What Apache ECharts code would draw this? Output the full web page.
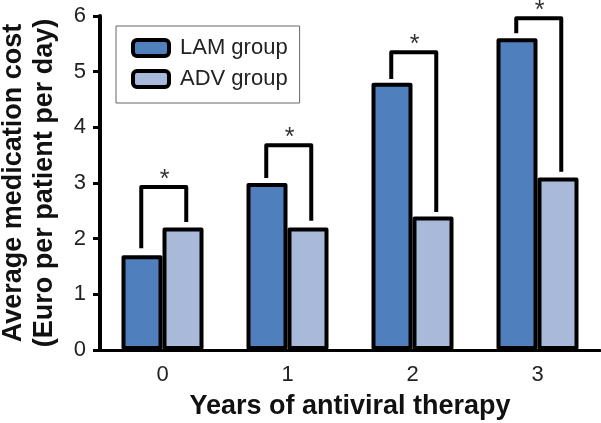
<!DOCTYPE html>
<html>
<head>
<meta charset="utf-8">
<script src="https://cdn.jsdelivr.net/npm/echarts@6/dist/echarts.min.js"></script>
<style>html,body{margin:0;padding:0;background:#fff}#chart{width:601px;height:423px}</style>
</head>
<body>
<div id="chart"></div>
<script>
const categories = ['0', '1', '2', '3'];
const lamValues = [1.7, 3.0, 4.8, 5.6];
const advValues = [2.2, 2.2, 2.4, 3.1];
const bracketTop = [2.93, 3.68, 5.35, 5.96];
const bracketLeftEnd = [1.83, 3.09, 4.87, 5.69];
const bracketRightEnd = [2.3, 2.32, 2.48, 3.2];
const bracketMark = ['*', '*', '*', '*'];

const FONT = '"Liberation Sans", Arial, sans-serif';
const chart = echarts.init(document.getElementById('chart'), null, {renderer: 'canvas'});

const bracketData = categories.map((c, i) => [i, bracketTop[i], bracketLeftEnd[i], bracketRightEnd[i]]);

chart.setOption({
  animation: false,
  backgroundColor: '#fff',
  grid: {left: 100, right: 1, top: 16, bottom: 73, containLabel: false, outerBoundsMode: 'none'},
  legend: {
    orient: 'vertical',
    left: 116, top: 26,
    padding: [11, 12, 13, 15],
    itemGap: 9,
    itemWidth: 36, itemHeight: 16,
    icon: 'roundRect',
    borderColor: '#666', borderWidth: 1,
    itemStyle: {borderColor: '#000', borderWidth: 4},
    textStyle: {fontFamily: FONT, fontSize: 22, color: '#222', padding: [0, 0, 0, 6], lineHeight: 22},
    data: ['LAM group', 'ADV group']
  },
  xAxis: {
    type: 'category',
    data: categories,
    name: 'Years of antiviral therapy',
    nameLocation: 'middle',
    nameGap: 43,
    nameTextStyle: {fontFamily: FONT, fontSize: 27, fontWeight: 'bold', color: '#111'},
    axisLine: {lineStyle: {color: '#000', width: 3}},
    axisTick: {alignWithLabel: true, length: 8, lineStyle: {color: '#000', width: 3}},
    axisLabel: {fontFamily: FONT, fontSize: 22, color: '#222', margin: 14}
  },
  yAxis: {
    type: 'value',
    min: 0, max: 6, interval: 1,
    name: 'Average medication cost\n(Euro per patient per day)',
    nameLocation: 'middle',
    nameGap: 40,
    nameTextStyle: {fontFamily: FONT, fontSize: 27, fontWeight: 'bold', color: '#111', lineHeight: 31},
    splitLine: {show: false},
    axisLine: {show: true, lineStyle: {color: '#000', width: 4}},
    axisTick: {show: true, length: 7, lineStyle: {color: '#000', width: 3}},
    axisLabel: {fontFamily: FONT, fontSize: 22, color: '#222', margin: 14}
  },
  series: [
    {
      name: 'LAM group', type: 'bar', data: lamValues,
      barWidth: 41, barGap: '0%',
      itemStyle: {color: '#4f80bd', borderColor: '#000', borderWidth: 4, borderJoin: 'round'}
    },
    {
      name: 'ADV group', type: 'bar', data: advValues,
      barWidth: 41, barGap: '0%',
      itemStyle: {color: '#a9b9da', borderColor: '#000', borderWidth: 4, borderJoin: 'round'}
    },
    {
      type: 'custom',
      silent: true,
      z: 5,
      clip: false,
      data: bracketData,
      encode: {x: 0, y: 1},
      renderItem: function (params, api) {
        const i = api.value(0);
        const top = api.coord([i, api.value(1)]);
        const lEnd = api.coord([i, api.value(2)]);
        const rEnd = api.coord([i, api.value(3)]);
        const bw = api.size([1, 0])[0];
        const lx = top[0] - bw * 0.17;
        const rx = top[0] + bw * 0.19;
        return {
          type: 'group',
          children: [
            {
              type: 'polyline',
              shape: {points: [[lx, lEnd[1]], [lx, top[1]], [rx, top[1]], [rx, rEnd[1]]]},
              style: {stroke: '#000', lineWidth: 4, fill: null, lineJoin: 'round', lineCap: 'butt'}
            },
            {
              type: 'text',
              style: {
                text: bracketMark[i], x: top[0] + 2, y: top[1] - 7,
                fontFamily: FONT, fontSize: 25, fill: '#333',
                align: 'center', verticalAlign: 'middle'
              }
            }
          ]
        };
      }
    }
  ]
});
</script>
</body>
</html>
